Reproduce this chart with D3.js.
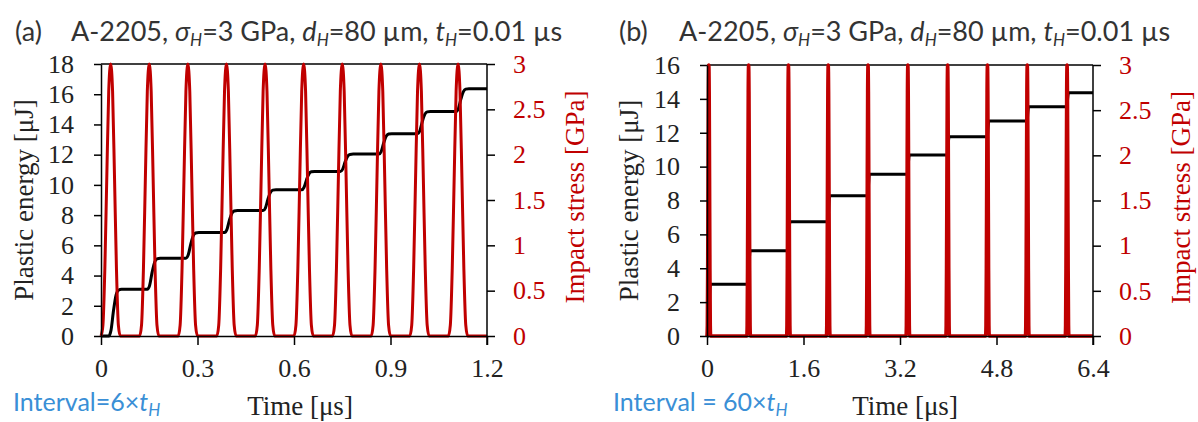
<!DOCTYPE html>
<html>
<head>
<meta charset="utf-8">
<script src="https://cdn.jsdelivr.net/npm/d3@7"></script>
<style>
  html, body { margin: 0; padding: 0; background: #fff; }
  svg { display: block; }
</style>
</head>
<body>
<svg id="chart" width="1198" height="422"></svg>
<script>
// ---------------- data ----------------
const timeTicksA = [0, 0.3, 0.6, 0.9, 1.2];
const timeTicksB = [0, 1.6, 3.2, 4.8, 6.4];
const energyTicksA = [0, 2, 4, 6, 8, 10, 12, 14, 16, 18];
const energyTicksB = [0, 2, 4, 6, 8, 10, 12, 14, 16];
const stressTicks = [0, 0.5, 1, 1.5, 2, 2.5, 3];

// start time of each impact pulse [µs]
const pulseStartsA = [0, 0.12, 0.24, 0.36, 0.48, 0.60, 0.72, 0.84, 0.96, 1.08];
const pulseStartsB = [0, 0.66, 1.32, 1.98, 2.64, 3.30, 3.96, 4.62, 5.28, 5.94];

// shape of one impact pulse: [time since pulse start (µs), stress (GPa)]
const pulseProfile = [
  [0, 0], [0.006, 0.12], [0.012, 0.75], [0.018, 1.75], [0.024, 2.7], [0.03, 3],
  [0.036, 2.7], [0.042, 1.75], [0.048, 0.75], [0.054, 0.12], [0.06, 0]
];

// plastic energy plateau after each pulse [µJ]
const energyLevelsA = [0, 3.09, 5.15, 6.85, 8.30, 9.68, 10.89, 12.04, 13.39, 14.86, 16.37];
const energyLevelsB = [0, 3.05, 5.04, 6.75, 8.28, 9.55, 10.68, 11.77, 12.69, 13.54, 14.36];

// shape of each energy rise: [time since pulse start (µs), fraction of the step]
const riseProfile = [[0.024, 0], [0.031, 0.12], [0.039, 0.55], [0.047, 0.88], [0.054, 0.98], [0.064, 1]];

// ---------------- drawing ----------------
const RED = "#c00000";
const BLUE = "#3a8fd6";
const SERIF = "'Liberation Serif','Times New Roman',serif";
const SANS = "Lato, 'Open Sans', sans-serif";

const svg = d3.select("#chart");

function drawPanel(opt) {
  const g = svg.append("g");
  const x = d3.scaleLinear().domain([opt.timeTicks[0], opt.timeTicks[opt.timeTicks.length - 1]]).range([opt.x0, opt.x1]);
  const yE = d3.scaleLinear().domain([0, opt.energyTicks[opt.energyTicks.length - 1]]).range([opt.y1, opt.y0]);
  const yS = d3.scaleLinear().domain([0, 3]).range([opt.y1, opt.y0]);
  const tMax = x.domain()[1];

  // energy curve points
  const ePts = [[0, 0]];
  opt.pulseStarts.forEach((s, i) => {
    const a = opt.levels[i], b = opt.levels[i + 1];
    riseProfile.forEach(([dt, f]) => ePts.push([s + dt, a + f * (b - a)]));
  });
  ePts.push([tMax, opt.levels[opt.levels.length - 1]]);

  // stress curve points
  const sPts = [];
  opt.pulseStarts.forEach(s => pulseProfile.forEach(([dt, v]) => sPts.push([s + dt, v])));
  sPts.push([tMax, 0]);

  const lineE = d3.line().x(d => x(d[0])).y(d => yE(d[1])).curve(d3.curveMonotoneX);
  const lineS = d3.line().x(d => x(d[0])).y(d => yS(d[1])).curve(d3.curveMonotoneX);

  // top frame line
  g.append("line").attr("x1", opt.x0).attr("x2", opt.x1).attr("y1", opt.y0).attr("y2", opt.y0)
    .attr("stroke", "#000").attr("stroke-width", 1.3);

  g.append("path").datum(ePts).attr("d", lineE)
    .attr("fill", "none").attr("stroke", "#000").attr("stroke-width", 3);
  g.append("path").datum(sPts).attr("d", lineS)
    .attr("fill", "none").attr("stroke", RED).attr("stroke-width", opt.redWidth).attr("stroke-linejoin", "round");

  // axes
  const axB = g.append("g").attr("transform", `translate(0,${opt.y1})`)
    .call(d3.axisBottom(x).tickValues(opt.timeTicks).tickFormat(d3.format("")).tickSizeOuter(0).tickSizeInner(9).tickPadding(14));
  const axL = g.append("g").attr("transform", `translate(${opt.x0},0)`)
    .call(d3.axisLeft(yE).tickValues(opt.energyTicks).tickSizeOuter(0).tickSizeInner(7).tickPadding(20));
  const axR = g.append("g").attr("transform", `translate(${opt.x1},0)`)
    .call(d3.axisRight(yS).tickValues(stressTicks).tickFormat(d3.format("")).tickSizeOuter(0).tickSizeInner(8).tickPadding(18));

  [axB, axL, axR].forEach(a => {
    a.selectAll("path").attr("stroke", "#000").attr("stroke-width", 1.5);
    a.selectAll("line").attr("stroke", "#000").attr("stroke-width", 1.5);
    a.selectAll("text").attr("font-family", SERIF).attr("font-size", 26).attr("fill", "#222");
  });
  axR.selectAll("text").attr("fill", RED);
  // right axis extends below the x axis
  axR.select("path").attr("d", `M0,${opt.y0}V${opt.y1 + 9}`);

  // axis titles
  g.append("text").attr("transform", `translate(${opt.yTitleX},${(opt.y0 + opt.y1) / 2}) rotate(-90)`)
    .attr("text-anchor", "middle").attr("font-family", SERIF).attr("font-size", 27).attr("fill", "#222")
    .text("Plastic energy [μJ]");
  g.append("text").attr("transform", `translate(${opt.yTitleRX},${(opt.y0 + opt.y1) / 2 - 3}) rotate(-90)`)
    .attr("text-anchor", "middle").attr("font-family", SERIF).attr("font-size", 27).attr("fill", RED)
    .text("Impact stress [GPa]");
  g.append("text").attr("x", opt.xTitleX).attr("y", 415)
    .attr("text-anchor", "middle").attr("font-family", SERIF).attr("font-size", 27).attr("fill", "#222")
    .text("Time [μs]");

  // panel title
  g.append("text").attr("x", opt.labelX).attr("y", 41).attr("font-family", SANS).attr("font-size", 27).attr("fill", "#333")
    .text(opt.label);
  const t = g.append("text").attr("x", opt.titleX).attr("y", 41).attr("font-family", SANS).attr("font-size", 27).attr("fill", "#333");
  const parts = [
    ["A-2205, ", false, false], ["σ", true, false], ["H", true, true], ["=3 GPa, ", false, false],
    ["d", true, false], ["H", true, true], ["=80 µm, ", false, false],
    ["t", true, false], ["H", true, true], ["=0.01 µs", false, false]
  ];
  let sub = false;
  parts.forEach(([s, it, isSub]) => {
    const sp = t.append("tspan").text(s);
    if (it) sp.attr("font-style", "italic");
    if (isSub) { sp.attr("font-size", 17).attr("dy", 5); sub = true; }
    else if (sub) { sp.attr("dy", -5); sub = false; }
  });

  // interval note
  const n = g.append("text").attr("x", opt.noteX).attr("y", 411).attr("font-family", SANS).attr("font-size", 25).attr("fill", BLUE);
  n.append("tspan").text(opt.note);
  n.append("tspan").attr("font-style", "italic").text("t");
  n.append("tspan").attr("font-style", "italic").attr("font-size", 17).attr("dy", 5).text("H");
}

drawPanel({
  x0: 101, x1: 487, y0: 64, y1: 336,
  timeTicks: timeTicksA, energyTicks: energyTicksA,
  pulseStarts: pulseStartsA, levels: energyLevelsA, redWidth: 3,
  yTitleX: 33, yTitleRX: 584, xTitleX: 300,
  label: "(a)", labelX: 15, titleX: 71,
  note: "Interval=6×", noteX: 13
});
drawPanel({
  x0: 707, x1: 1093, y0: 65, y1: 336,
  timeTicks: timeTicksB, energyTicks: energyTicksB,
  pulseStarts: pulseStartsB, levels: energyLevelsB, redWidth: 3.6,
  yTitleX: 638, yTitleRX: 1190, xTitleX: 905,
  label: "(b)", labelX: 619, titleX: 679,
  note: "Interval = 60×", noteX: 613
});
</script>
</body>
</html>
